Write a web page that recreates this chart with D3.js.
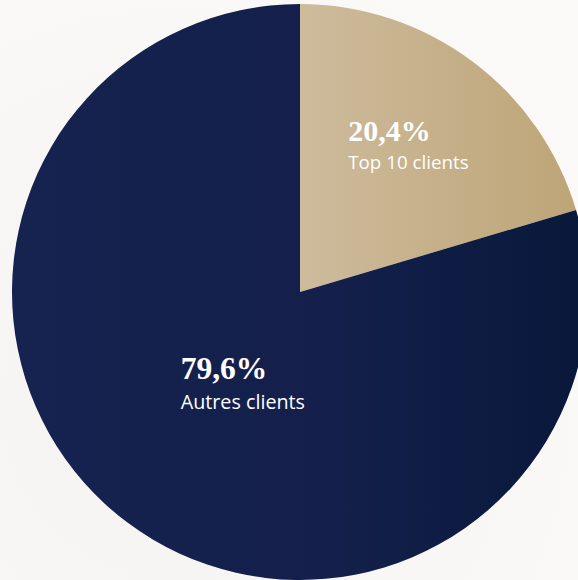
<!DOCTYPE html>
<html>
<head>
<meta charset="utf-8">
<script src="https://cdn.jsdelivr.net/npm/d3@7"></script>
<style>
  html, body { margin: 0; padding: 0; background: #f8f7f6; overflow: hidden; }
  svg { display: block; }
</style>
</head>
<body>
<div id="chart"></div>
<script>
// data //
const labels = ['Top 10 clients', 'Autres clients']
const values = [20.4, 79.6]
const valueTexts = ['20,4%', '79,6%']

// svg //
const width = 578
const height = 580
const cx = 300
const cy = 292
const radius = 288
// label placement (fraction of radius) + nudges
const labelRadius = [0.63, 0.39]
const labelShift = [[0, 0], [10, 3]]
const labelScale = [1, 1.05]
const pctSize = 30
const nameSize = 18.8

const svg = d3.select('#chart').append('svg')
  .attr('width', width)
  .attr('height', height)

const defs = svg.append('defs')

// soft background
const bg = defs.append('radialGradient').attr('id', 'bg')
  .attr('cx', '0.3').attr('cy', '0.7').attr('r', '0.9')
bg.append('stop').attr('offset', '0%').attr('stop-color', '#f4f3f1')
bg.append('stop').attr('offset', '100%').attr('stop-color', '#fbfaf9')
svg.append('rect').attr('width', width).attr('height', height).attr('fill', 'url(#bg)')

const gold = defs.append('linearGradient').attr('id', 'gold')
gold.append('stop').attr('offset', '0%').attr('stop-color', '#cdbb9c')
gold.append('stop').attr('offset', '100%').attr('stop-color', '#bea577')

const navy = defs.append('linearGradient').attr('id', 'navy')
navy.append('stop').attr('offset', '0%').attr('stop-color', '#16224f')
navy.append('stop').attr('offset', '55%').attr('stop-color', '#14204b')
navy.append('stop').attr('offset', '100%').attr('stop-color', '#08183a')

const fills = ['url(#gold)', 'url(#navy)']

const pie = d3.pie().sort(null).value(d => d)
const arcs = pie(values)
const arc = d3.arc().innerRadius(0).outerRadius(radius)

const main = svg.append('g')
  .attr('transform', `translate(${cx}, ${cy})`)

main.selectAll('path')
  .data(arcs)
  .enter()
  .append('path')
  .attr('d', arc)
  .attr('fill', (d, i) => fills[i])

// labels //
const label = main.selectAll('g.label')
  .data(arcs)
  .enter()
  .append('g')
  .attr('class', 'label')
  .attr('transform', (d, i) => {
    const r = radius * labelRadius[i]
    const c = d3.arc().innerRadius(r).outerRadius(r).centroid(d)
    return `translate(${c[0] + labelShift[i][0]}, ${c[1] + labelShift[i][1]})`
  })

label.append('text')
  .attr('class', 'pct')
  .attr('y', -6)
  .style('font-family', '"Liberation Serif", "Times New Roman", serif')
  .style('font-weight', 'bold')
  .style('font-size', (d, i) => pctSize * labelScale[i] + 'px')
  .attr('fill', '#ffffff')
  .text((d, i) => valueTexts[i])

label.append('text')
  .attr('class', 'name')
  .attr('y', (d, i) => -6 + 28.3 * labelScale[i])
  .style('font-family', '"Open Sans", sans-serif')
  .style('font-size', (d, i) => nameSize * labelScale[i] + 'px')
  .attr('fill', '#ffffff')
  .text((d, i) => labels[i])

// left-align block around the anchor point
label.each(function () {
  const g = d3.select(this)
  const w = d3.max(g.selectAll('text').nodes(), n => n.getComputedTextLength())
  g.selectAll('text').attr('x', -w / 2)
})
</script>
</body>
</html>
